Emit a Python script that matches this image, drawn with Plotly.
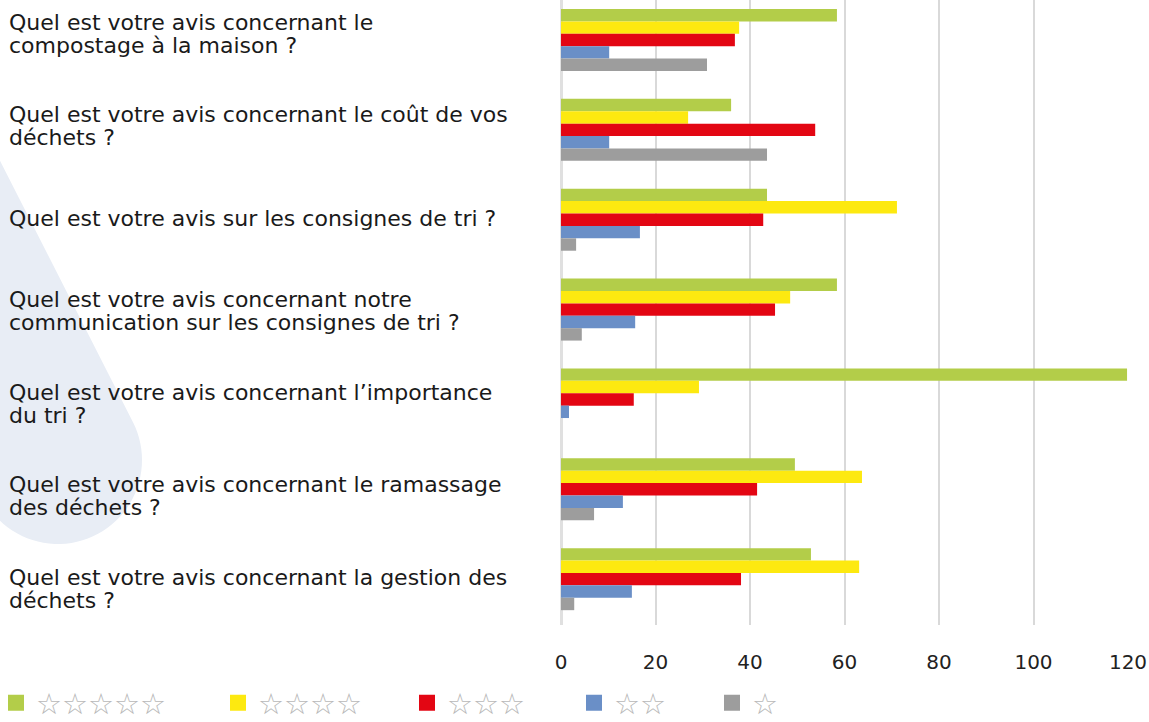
import numpy as np
import plotly.graph_objects as go

# ---------------- data ----------------
categories = [
    "Quel est votre avis concernant le compostage à la maison ?",
    "Quel est votre avis concernant le coût de vos déchets ?",
    "Quel est votre avis sur les consignes de tri ?",
    "Quel est votre avis concernant notre communication sur les consignes de tri ?",
    "Quel est votre avis concernant l’importance du tri ?",
    "Quel est votre avis concernant le ramassage des déchets ?",
    "Quel est votre avis concernant la gestion des déchets ?",
]
category_lines = [
    ["Quel est votre avis concernant le", "compostage à la maison ?"],
    ["Quel est votre avis concernant le coût de vos", "déchets ?"],
    ["Quel est votre avis sur les consignes de tri ?"],
    ["Quel est votre avis concernant notre", "communication sur les consignes de tri ?"],
    ["Quel est votre avis concernant l’importance", "du tri ?"],
    ["Quel est votre avis concernant le ramassage", "des déchets ?"],
    ["Quel est votre avis concernant la gestion des", "déchets ?"],
]
series_names = ["☆☆☆☆☆", "☆☆☆☆", "☆☆☆", "☆☆", "☆"]
five_stars = [58.4, 36.0, 43.6, 58.4, 119.8, 49.5, 52.9]
four_stars = [37.7, 26.9, 71.1, 48.5, 29.2, 63.7, 63.1]
three_stars = [36.8, 53.8, 42.8, 45.3, 15.4, 41.5, 38.1]
two_stars = [10.2, 10.2, 16.7, 15.7, 1.7, 13.1, 15.0]
one_star = [30.9, 43.6, 3.2, 4.4, 0.0, 7.0, 2.8]
series_values = [five_stars, four_stars, three_stars, two_stars, one_star]
x_ticks = [0, 20, 40, 60, 80, 100, 120]

colors = ["#b3cd49", "#fde910", "#e30613", "#6a8fc7", "#9d9d9d"]

# ---------------- layout geometry ----------------
W, H = 1149, 722
ML, MR, MT, MB = 561, 21, 0, 97
PW, PH = W - ML - MR, H - MT - MB
Y_RANGE = [6.51, -0.445]
FONT = "DejaVu Sans"
LABEL_SIZE = 22
LINE_GAP = 23
LABEL_TOP_PX, LABEL_PITCH_PX = 33.5, 92.5   # label block centres in the reference


def to_paper(px, py):
    return (px - ML) / PW, (H - MB - py) / PH


def py_to_cat(py):
    return Y_RANGE[1] + (py - MT) / PH * (Y_RANGE[0] - Y_RANGE[1])


fig = go.Figure()
for i, (name, vals, col) in enumerate(zip(series_names, series_values, colors)):
    fig.add_trace(go.Bar(
        y=categories, x=vals, orientation="h", name=name,
        marker=dict(color=col, line=dict(width=0)),
        legendgroup=f"g{i}", showlegend=False,
        hovertemplate="%{y}<br>" + name + " : %{x}<extra></extra>",
    ))
    # legend entry with a larger square swatch
    fig.add_trace(go.Scatter(
        x=[None], y=[None], mode="markers", name=name,
        marker=dict(symbol="square", size=20, color=col),
        legendgroup=f"g{i}", showlegend=True,
        legend="legend" if i == 0 else f"legend{i + 1}",
    ))

# category labels, left aligned, one annotation per line
for j, (cat, lines) in enumerate(zip(categories, category_lines)):
    n = len(lines)
    ycat = py_to_cat(LABEL_TOP_PX + LABEL_PITCH_PX * j)
    for k, line in enumerate(lines):
        shift = ((n - 1) / 2 - k) * LINE_GAP
        fig.add_annotation(
            x=to_paper(8, 0)[0], xref="paper", y=ycat, yref="y", yshift=shift,
            text=line, showarrow=False, xanchor="left", yanchor="middle", align="left",
            borderpad=0,
            font=dict(family=FONT, size=LABEL_SIZE, color="#1a1a1a"),
        )

# background teardrop shape
C = np.array([58.0, 460.0]); r = 84.0
A = np.array([-41.0, 80.0])
theta = np.deg2rad(np.linspace(-26.95, 200, 60))
arc = np.stack([C[0] + r * np.cos(theta), C[1] + r * np.sin(theta)], axis=1)
pts = [A] + list(arc)
path = ""
for k, (px, py) in enumerate(pts):
    xp, yp = to_paper(px, py)
    path += ("M" if k == 0 else "L") + f"{xp:.5f},{yp:.5f}"
path += "Z"
fig.add_shape(type="path", path=path, xref="paper", yref="paper",
              fillcolor="#e8edf5", line=dict(width=0), layer="below")

# legends (one per series so each can be placed like the reference)
legend_px = [-4, 218, 407, 574, 712]
legend_common = dict(orientation="h", yanchor="middle", xanchor="left",
                     bgcolor="rgba(0,0,0,0)", borderwidth=0,
                     font=dict(family=FONT, size=29, color="#b8b8b8"),
                     itemclick="toggle")
legends = {}
for i, lpx in enumerate(legend_px):
    key = "legend" if i == 0 else f"legend{i + 1}"
    legends[key] = dict(legend_common, x=to_paper(lpx, 0)[0], y=to_paper(0, 703)[1])

fig.update_layout(
    width=W, height=H,
    margin=dict(l=ML, r=MR, t=MT, b=MB, pad=0, autoexpand=False),
    paper_bgcolor="white", plot_bgcolor="rgba(0,0,0,0)",
    barmode="group", bargap=0.31, bargroupgap=0,
    font=dict(family=FONT, color="#1a1a1a"),
    xaxis=dict(range=[0, 120], tickvals=x_ticks, showgrid=True,
               gridcolor="#d9d9d9", gridwidth=1.5,
               zeroline=True, zerolinecolor="#e0e0e0", zerolinewidth=3,
               showline=False, ticks="outside", ticklen=19,
               tickcolor="rgba(0,0,0,0)",
               tickfont=dict(family=FONT, size=20, color="#222222")),
    yaxis=dict(type="category", range=Y_RANGE, showticklabels=False,
               showgrid=False, zeroline=False, showline=False, ticks=""),
    **legends,
)

fig.write_html("out.html", config={"displayModeBar": False},
               post_script="document.body.style.margin='0';document.body.style.overflow='hidden';")
